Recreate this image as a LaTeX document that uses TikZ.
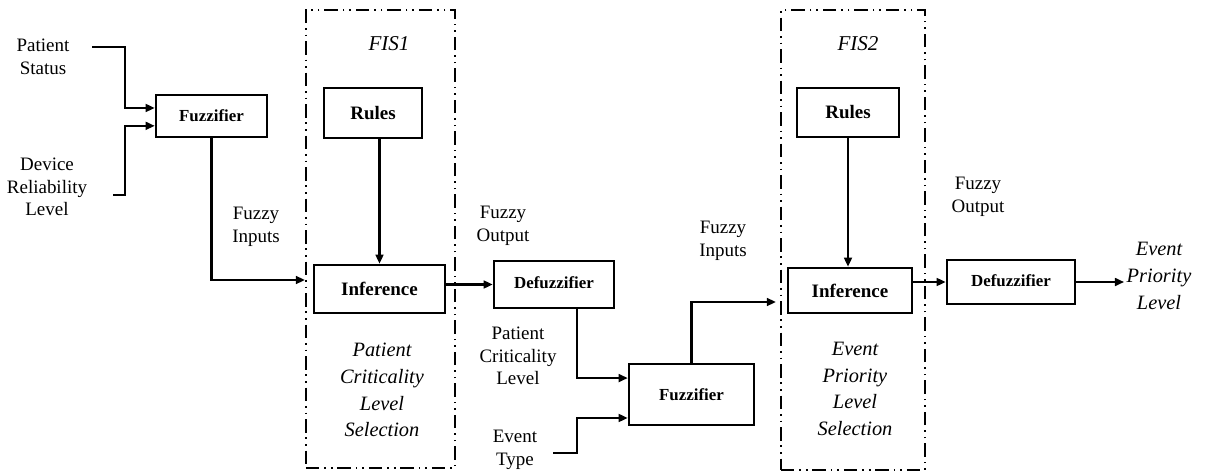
\documentclass[tikz,border=0pt]{standalone}
\usepackage{fontspec}
\setmainfont{Liberation Serif}
\usetikzlibrary{arrows.meta,positioning}

\begin{document}
\begin{tikzpicture}[x=0.025cm, y=-0.025cm, line width=1.7pt, >={Triangle[length=6.5pt,width=5.5pt]},
        block/.style={draw, inner sep=2pt, font=\fontsize{13.5}{16}\selectfont\bfseries},
        fuzbox/.style={block, font=\fontsize{12}{14}\selectfont\bfseries},
        fisbox/.style={draw, line width=1.6pt, dash pattern=on 9.5pt off 3.5pt on 1.2pt off 3.5pt on 1.2pt off 3.5pt},
        lbl/.style={align=center, inner sep=1pt, font=\fontsize{13.5}{16}\selectfont},
        itlbl/.style={align=center, inner sep=1pt, font=\fontsize{14.5}{19}\selectfont\itshape}]
        \useasboundingbox (0,0) rectangle (1211,474);

        % the two inference systems
        \node[fisbox, minimum width=3.725cm, minimum height=11.45cm] (fis1) at (380.5,239) {};
        \node[fisbox, minimum width=3.6cm,   minimum height=11.5cm]  (fis2) at (853,240)   {};

        \node[itlbl, font=\fontsize{15}{18}\selectfont\itshape] (fis1lbl) at (389,44) {FIS1};
        \node[itlbl, font=\fontsize{15}{18}\selectfont\itshape] (fis2lbl) at (858,44) {FIS2};

        % blocks
        \node[fuzbox, minimum width=2.775cm, minimum height=1.05cm]  (fuz1)   at (211.5,116) {Fuzzifier};
        \node[block,  minimum width=2.45cm,  minimum height=1.25cm]  (rules1) at (373,113)   {Rules};
        \node[block,  minimum width=3.275cm, minimum height=1.2cm]   (inf1)   at (379.5,289) {Inference};
        \node[fuzbox, minimum width=3cm,     minimum height=1.175cm] (defz1)  at (554,284.5) {\raisebox{3pt}{Defuzzifier}};
        \node[fuzbox, minimum width=3.125cm, minimum height=1.525cm] (fuz2)   at (691.5,394.5) {Fuzzifier};
        \node[block,  minimum width=2.55cm,  minimum height=1.225cm] (rules2) at (848,112.5) {Rules};
        \node[block,  minimum width=3.1cm,   minimum height=1.125cm] (inf2)   at (850,290.5) {Inference};
        \node[fuzbox, minimum width=3.2cm,   minimum height=1.1cm]   (defz2)  at (1011,282)  {\raisebox{2pt}{Defuzzifier}};

        % labels
        \node[lbl]   (pstat)  at (43,57)   {Patient\\Status};
        \node[lbl]   (devrel) at (47,187)  {Device\\Reliability\\Level};
        \node[lbl]   (fin1)   at (256,227) {Fuzzy\\Inputs};
        \node[lbl]   (fout1)  at (503,226) {Fuzzy\\Output};
        \node[lbl]   (pcl)    at (518,356) {Patient\\Criticality\\Level};
        \node[lbl]   (etype)  at (515,450) {Event\\Type};
        \node[lbl]   (fin2)   at (723,241) {Fuzzy\\Inputs};
        \node[lbl]   (fout2)  at (978,197) {Fuzzy\\Output};
        \node[itlbl] (sel1)   at (382,390) {Patient\\Criticality\\Level\\Selection};
        \node[itlbl] (sel2)   at (855,389) {Event\\Priority\\Level\\Selection};
        \node[itlbl] (epl)    at (1159,276) {Event\\Priority\\Level};

        % free ends
        \coordinate (pstart) at (92,47);
        \coordinate (dstart) at (113,195);
        \coordinate (estart) at (553,453);
        \coordinate (in1)    at (305,280);
        \coordinate (in2)    at (776,302);

        \draw[->] (pstart) -| ++(33,40) |- ([yshift=5.7pt]fuz1.west);
        \draw[->] (dstart) -| ++(12,-40) |- ([yshift=-7pt]fuz1.west);
        \draw[->] (fuz1.south) |- (in1);
        \draw[->] ([xshift=16.4pt]defz1.south) |- ([yshift=11.7pt]fuz2.west);
        \draw[->] (estart) -| ++(24,-20) |- ([yshift=-16.7pt]fuz2.west);
        \draw[->] (fuz2.north) |- (in2);

        \draw[->] (inf1.north |- rules1.south) -- (inf1.north);
        \draw[->] (rules2.south) -- (rules2 |- inf2.north);
        \draw[->] (inf1.east |- defz1) -- (defz1.west);
        \draw[->] (inf2.east |- defz2) -- (defz2.west);
        \draw[->] (defz2.east) -- (epl.west |- defz2);
\end{tikzpicture}
\end{document}
